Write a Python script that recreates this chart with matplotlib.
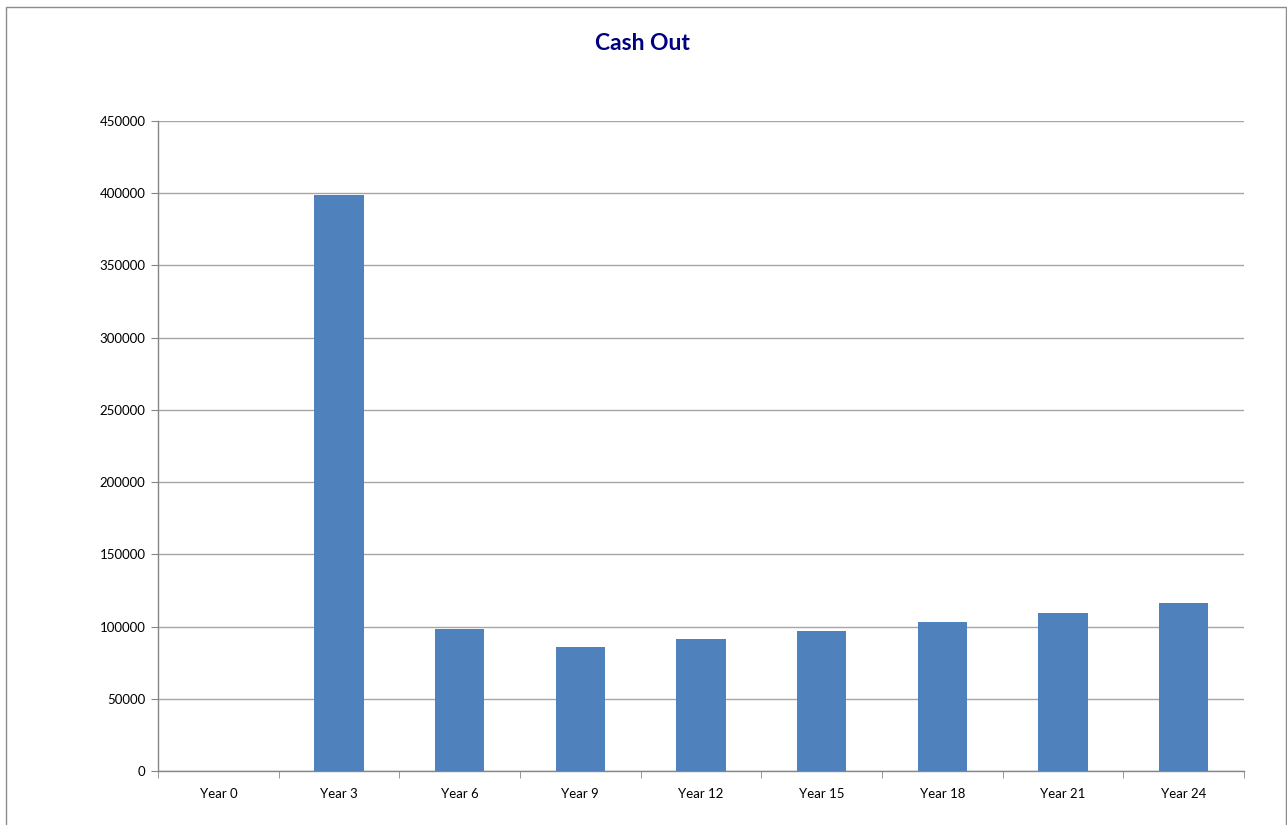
import matplotlib
matplotlib.use("Agg")
import matplotlib.pyplot as plt
from matplotlib.patches import Rectangle
import numpy as np

categories = ["Year 0", "Year 3", "Year 6", "Year 9", "Year 12", "Year 15", "Year 18", "Year 21", "Year 24"]
values = [0, 398800, 98300, 85800, 91400, 96900, 103200, 109400, 116300]
yticks = [0, 50000, 100000, 150000, 200000, 250000, 300000, 350000, 400000, 450000]

plt.rcParams['font.family'] = ['Lato', 'DejaVu Sans']

W, H = 1287, 825
fig = plt.figure(figsize=(W / 100, H / 100), dpi=100)
fig.patch.set_facecolor("white")

# outer chart border
fig.patches.append(Rectangle((6 / W, -0.01), (1286 - 6) / W, 1 - 7 / H + 0.01,
                             transform=fig.transFigure, fill=False,
                             edgecolor="#8c8c8c", linewidth=1.0))

left, right, top, bottom = 158, 1244, 121, 771
ax = fig.add_axes([left / W, 1 - bottom / H, (right - left) / W, (bottom - top) / H])

x = np.arange(len(categories))
ax.bar(x, values, width=0.41, color="#4f81bd", zorder=3)

ax.set_xlim(-0.5, len(categories) - 0.5)
ax.set_ylim(0, 450000)
ax.set_yticks(yticks)
ax.set_yticklabels([str(v) for v in yticks], fontsize=9.5)
ax.yaxis.grid(True, color="#a6a6a6", linewidth=1.0, zorder=0)

ax.set_xticks(x)
ax.set_xticklabels(categories, fontsize=9.5)
ax.set_xticks(np.arange(-0.5, len(categories)), minor=True)
ax.tick_params(axis="x", which="major", length=0, pad=12)
ax.tick_params(axis="x", which="minor", length=5, color="#868686", direction="out")
ax.tick_params(axis="y", which="major", length=5, color="#868686", direction="out", pad=4)

for s in ["top", "right"]:
    ax.spines[s].set_visible(False)
for s in ["left", "bottom"]:
    ax.spines[s].set_color("#868686")
    ax.spines[s].set_linewidth(1.0)

fig.text(642 / W, 1 - 43 / H, "Cash Out", ha="center", va="center",
         fontsize=16.5, fontweight="bold", color="#000080")

fig.savefig("out.png", dpi=100, facecolor="white")
